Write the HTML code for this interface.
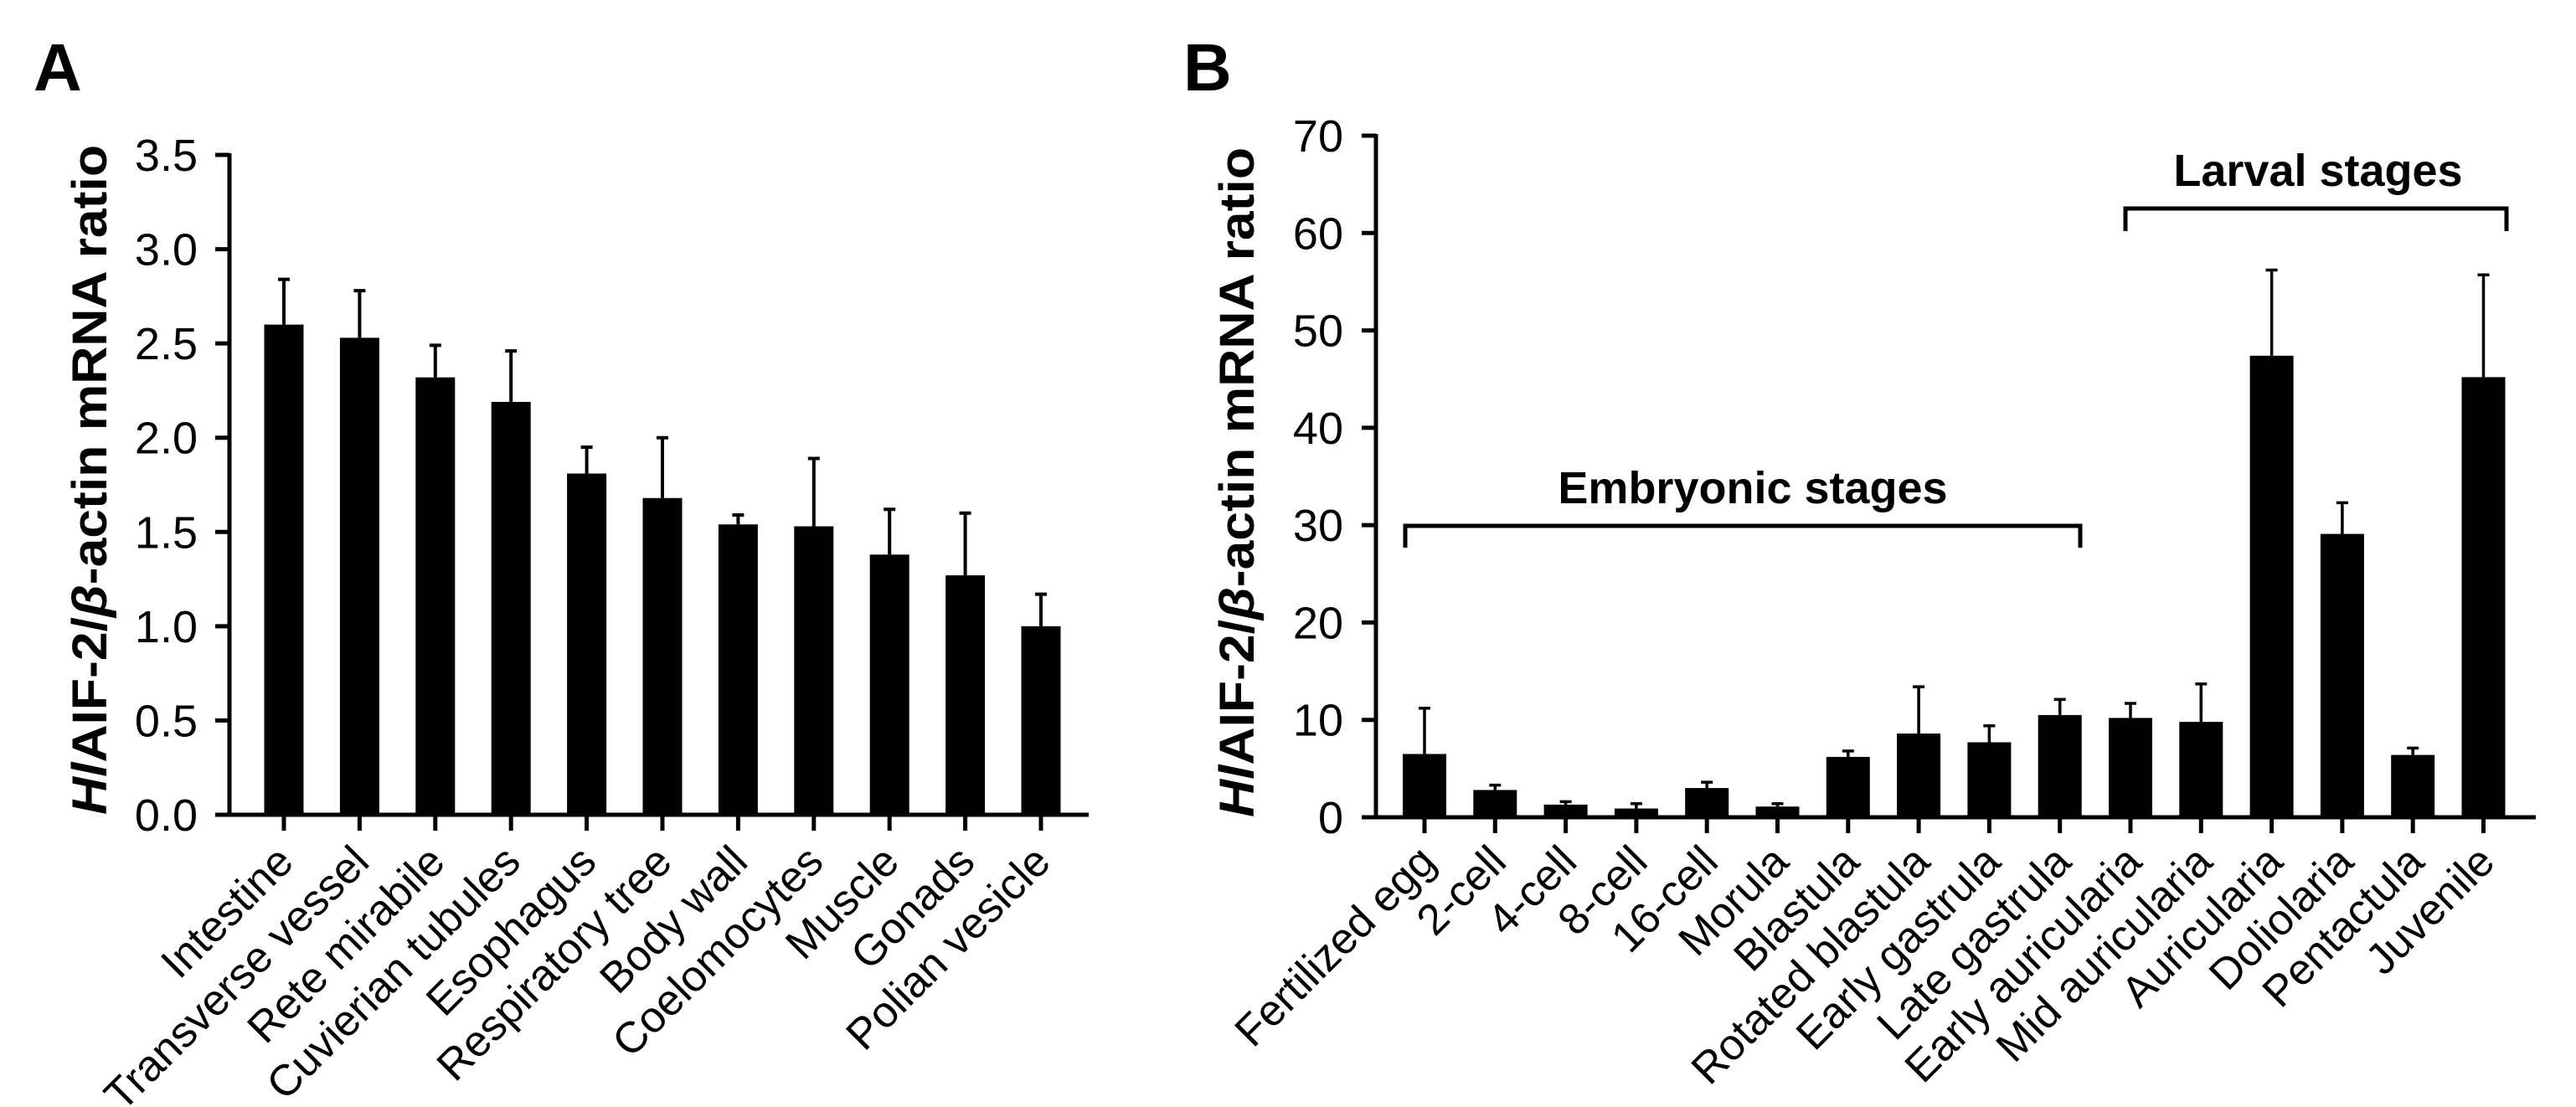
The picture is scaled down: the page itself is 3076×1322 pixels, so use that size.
<!DOCTYPE html>
<html><head><meta charset="utf-8"><style>
html,body{margin:0;padding:0;background:#fff;}
svg{display:block;font-family:"Liberation Sans",Arial,sans-serif;}
</style></head><body>
<svg id="fig" width="3076" height="1322" viewBox="0 0 3076 1322" xmlns="http://www.w3.org/2000/svg">
<text x="40" y="108" font-size="80" font-weight="bold">A</text>
<text x="1413" y="108" font-size="80" font-weight="bold">B</text>
<text transform="translate(127,973) rotate(-90)" font-size="58" font-weight="bold" textLength="800" lengthAdjust="spacingAndGlyphs"><tspan font-style="italic">Hl</tspan>AIF-2/<tspan font-style="italic">β</tspan>-actin mRNA ratio</text>
<text transform="translate(1497,976) rotate(-90)" font-size="58" font-weight="bold" textLength="800" lengthAdjust="spacingAndGlyphs"><tspan font-style="italic">Hl</tspan>AIF-2/<tspan font-style="italic">β</tspan>-actin mRNA ratio</text>
<g id="pa"></g>
<g id="pb"></g>
<g>
<path d="M1678,654 V628 H2484 V654" fill="none" stroke="#000" stroke-width="5"/>
<text x="2093" y="601" font-size="54" font-weight="bold" text-anchor="middle">Embryonic stages</text>
</g>
<g>
<path d="M2538,276 V249 H2993 V276" fill="none" stroke="#000" stroke-width="5"/>
<text x="2768" y="222" font-size="54" font-weight="bold" text-anchor="middle">Larval stages</text>
</g>
</svg>
<script>
const catsA = ["Intestine","Transverse vessel","Rete mirabile","Cuvierian tubules","Esophagus","Respiratory tree","Body wall","Coelomocytes","Muscle","Gonads","Polian vesicle"];
const valsA = [2.60,2.53,2.32,2.19,1.81,1.68,1.54,1.53,1.38,1.27,1.00];
const errA = [2.84,2.78,2.49,2.46,1.95,2.00,1.59,1.89,1.62,1.60,1.17];
const ticksA = ["0.0","0.5","1.0","1.5","2.0","2.5","3.0","3.5"];
const catsB = ["Fertilized egg","2-cell","4-cell","8-cell","16-cell","Morula","Blastula","Rotated blastula","Early gastrula","Late gastrula","Early auricularia","Mid auricularia","Auricularia","Doliolaria","Pentactula","Juvenile"];
const valsB = [6.5,2.8,1.3,0.9,3.0,1.1,6.2,8.6,7.7,10.5,10.2,9.8,47.4,29.1,6.4,45.2];
const errB = [11.2,3.3,1.6,1.4,3.6,1.4,6.8,13.4,9.4,12.1,11.7,13.7,56.2,32.3,7.1,55.7];
const ticksB = ["0","10","20","30","40","50","60","70"];
const NS="http://www.w3.org/2000/svg";
function mk(tag,attrs,parent){const e=document.createElementNS(NS,tag);for(const k in attrs)e.setAttribute(k,attrs[k]);parent.appendChild(e);return e;}
function draw(g,cfg){
  const {cats,vals,errs,ticks,x0,x1,y0,yTop,max,c0,step,bw,tickX,lblDx,lblY,errW,prefix}=cfg;
  const y=v=>y0-(v/max)*(y0-yTop);
  const x=i=>c0+i*step;
  ticks.forEach(t=>{
    const v=parseFloat(t);
    const l=mk('line',{x1:x0-17,x2:x0,y1:y(v),y2:y(v),stroke:'#000','stroke-width':5},g);
    
    
    const tx=mk('text',{x:tickX,y:y(v)+19,'font-size':54,'text-anchor':'end'},g);
    tx.textContent=t;
    
    
  });
  cats.forEach((c,i)=>{
    const r=mk('rect',{x:x(i)-bw/2,y:y(vals[i]),width:bw,height:y0-y(vals[i]),fill:'#000'},g);
    
    
    const e=mk('path',{d:`M${x(i)},${y(vals[i])} V${y(errs[i])} M${x(i)-7},${y(errs[i])} H${x(i)+7}`,stroke:'#000','stroke-width':errW,fill:'none'},g);
    
    
    const tk=mk('line',{x1:x(i),x2:x(i),y1:y0,y2:y0+19,stroke:'#000','stroke-width':5},g);
    
    
    const lx=x(i)+lblDx, ly=lblY;
    const t=mk('text',{x:lx,y:ly,'font-size':52,'text-anchor':'end',transform:`rotate(-45 ${lx} ${ly})`},g);
    t.textContent=c;
    
    
  });
  const ax=mk('path',{d:`M${x0},${yTop-2} V${y0} H${x1}`,stroke:'#000','stroke-width':5,fill:'none'},g);
  
  
}
draw(document.getElementById('pa'),{cats:catsA,vals:valsA,errs:errA,ticks:ticksA,x0:274,x1:1300,y0:973,yTop:185,max:3.5,c0:339,step:90.4,bw:47,tickX:236,lblDx:14,lblY:1032,errW:4,prefix:'a-'});
draw(document.getElementById('pb'),{cats:catsB,vals:valsB,errs:errB,ticks:ticksB,x0:1643,x1:3028,y0:976,yTop:162,max:70,c0:1701,step:84.3,bw:52,tickX:1604,lblDx:16,lblY:1032,errW:3.5,prefix:'b-'});
</script>
</body></html>
